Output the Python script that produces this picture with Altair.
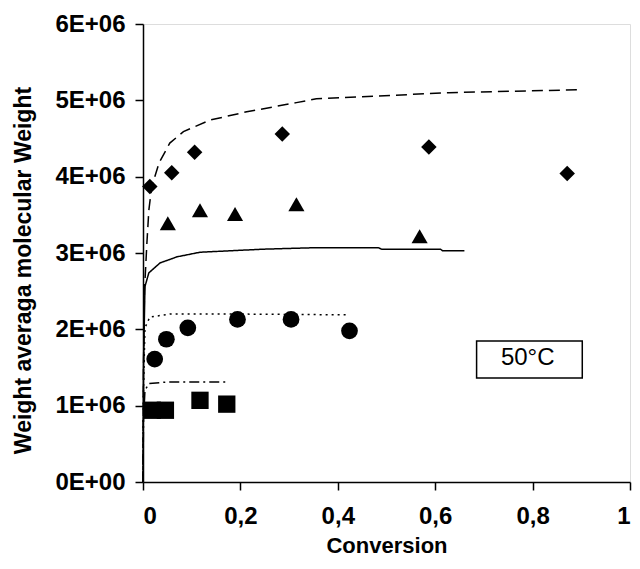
import altair as alt
import pandas as pd

# ---- model curves ----
dashed_x = [0, 0.001, 0.003, 0.008, 0.012, 0.018, 0.033, 0.055, 0.083, 0.137, 0.213, 0.315, 0.356, 0.628, 0.901]
dashed_y = [0, 1.5e6, 2.5e6, 3.13e6, 3.56e6, 3.87e6, 4.18e6, 4.44e6, 4.59e6, 4.74e6, 4.85e6, 4.97e6, 5.02e6, 5.10e6, 5.14e6]

solid_x = [0, 0.001, 0.004, 0.012, 0.035, 0.07, 0.117, 0.247, 0.356, 0.483, 0.49, 0.611, 0.615, 0.66]
solid_y = [0, 1.5e6, 2.56e6, 2.74e6, 2.87e6, 2.95e6, 3.01e6, 3.05e6, 3.07e6, 3.07e6, 3.05e6, 3.05e6, 3.03e6, 3.03e6]

dotted_x = [0, 0.001, 0.004, 0.014, 0.055, 0.2, 0.417]
dotted_y = [0, 1.2e6, 2.02e6, 2.16e6, 2.2e6, 2.2e6, 2.19e6]

dashdot_x = [0, 0.001, 0.004, 0.012, 0.05, 0.174]
dashdot_y = [0, 0.8e6, 1.2e6, 1.29e6, 1.31e6, 1.31e6]

# ---- experimental points ----
diamonds_x = [0.014, 0.059, 0.106, 0.286, 0.587, 0.871]
diamonds_y = [3.87e6, 4.05e6, 4.32e6, 4.56e6, 4.39e6, 4.04e6]
triangles_x = [0.051, 0.117, 0.189, 0.315, 0.568]
triangles_y = [3.39e6, 3.56e6, 3.51e6, 3.64e6, 3.22e6]
circles_x = [0.024, 0.048, 0.092, 0.194, 0.304, 0.424]
circles_y = [1.61e6, 1.87e6, 2.02e6, 2.13e6, 2.13e6, 1.98e6]
squares_x = [0.019, 0.046, 0.117, 0.172]
squares_y = [0.94e6, 0.94e6, 1.07e6, 1.02e6]

# ---- axis ticks ----
x_ticks = [0, 0.2, 0.4, 0.6, 0.8, 1]
x_tick_labels = ["0", "0,2", "0,4", "0,6", "0,8", "1"]
y_ticks = [0, 1e6, 2e6, 3e6, 4e6, 5e6, 6e6]
y_tick_labels = ["0E+00", "1E+06", "2E+06", "3E+06", "4E+06", "5E+06", "6E+06"]

# ---- annotation box ----
note_text = ["50°C"]
note_x = [0.685]
note_x2 = [0.902]
note_y = [1.363e6]
note_y2 = [1.848e6]
note_tx = [0.790]
note_ty = [1.62e6]

FONT = "Liberation Sans"

def label_expr(vals, labels):
    expr = "''"
    for v, l in reversed(list(zip(vals, labels))):
        expr = f"abs(datum.value - {v}) < 1e-9 * max(1, {abs(v)}) ? '{l}' : ({expr})"
    return expr

lines = pd.concat([
    pd.DataFrame({"x": dashed_x, "y": dashed_y, "s": "dashed"}),
    pd.DataFrame({"x": solid_x, "y": solid_y, "s": "solid"}),
    pd.DataFrame({"x": dotted_x, "y": dotted_y, "s": "dotted"}),
    pd.DataFrame({"x": dashdot_x, "y": dashdot_y, "s": "dashdot"}),
], ignore_index=True)

points = pd.concat([
    pd.DataFrame({"x": diamonds_x, "y": diamonds_y, "g": "diamond"}),
    pd.DataFrame({"x": triangles_x, "y": triangles_y, "g": "triangle-up"}),
    pd.DataFrame({"x": circles_x, "y": circles_y, "g": "circle"}),
    pd.DataFrame({"x": squares_x, "y": squares_y, "g": "square"}),
], ignore_index=True)

xscale = alt.Scale(domain=[0, 1], nice=False, zero=False)
yscale = alt.Scale(domain=[0, 6e6], nice=False)

xaxis = alt.Axis(
    values=x_ticks, labelExpr=label_expr(x_ticks, x_tick_labels), title="Conversion",
    grid=False, tickSize=8, tickColor="black", domainColor="black", tickWidth=1.5, domainWidth=1.5,
    labelFont=FONT, labelFontSize=24, labelFontWeight="bold", labelColor="black", labelPadding=14,
    titleFont=FONT, titleFontSize=22, titleFontWeight="bold", titleColor="black",
    titleY=70, titleBaseline="alphabetic",
)
yaxis = alt.Axis(
    values=y_ticks, labelExpr=label_expr(y_ticks, y_tick_labels), title="Weight averaga molecular Weight",
    grid=False, tickSize=8, tickColor="black", domainColor="black", tickWidth=1.5, domainWidth=1.5,
    labelFont=FONT, labelFontSize=24, labelFontWeight="bold", labelColor="black", labelPadding=10,
    titleFont=FONT, titleFontSize=23, titleFontWeight="bold", titleColor="black",
    titleX=-120, titleY=246, titleBaseline="middle", titleAlign="center", titleAngle=270,
)

line_layer = alt.Chart(lines).mark_line(color="black", strokeWidth=1.5).encode(
    x=alt.X("x:Q", scale=xscale, axis=xaxis),
    y=alt.Y("y:Q", scale=yscale, axis=yaxis),
    detail="s:N",
    strokeDash=alt.StrokeDash(
        "s:N",
        scale=alt.Scale(domain=["dashed", "solid", "dotted", "dashdot"],
                        range=[[11, 6], [1, 0], [2, 4], [10, 4, 2, 4]]),
        legend=None,
    ),
)

point_layer = alt.Chart(points).mark_point(filled=True, color="black", opacity=1).encode(
    x=alt.X("x:Q", scale=xscale),
    y=alt.Y("y:Q", scale=yscale),
    shape=alt.Shape("g:N", scale=alt.Scale(domain=["diamond", "triangle-up", "circle", "square"],
                                            range=["diamond", "triangle-up", "circle", "square"]), legend=None),
    size=alt.Size("g:N", scale=alt.Scale(domain=["diamond", "triangle-up", "circle", "square"],
                                          range=[240, 300, 125, 220]), legend=None),
)

note = pd.DataFrame({"t": note_text, "x": note_x, "x2": note_x2, "y": note_y, "y2": note_y2,
                     "tx": note_tx, "ty": note_ty})

box_layer = alt.Chart(note).mark_rect(fill="white", stroke="black", strokeWidth=1.5).encode(
    x=alt.X("x:Q", scale=xscale), x2="x2:Q",
    y=alt.Y("y:Q", scale=yscale), y2="y2:Q",
)
text_layer = alt.Chart(note).mark_text(font=FONT, fontSize=24, color="black", align="center", baseline="middle").encode(
    x=alt.X("tx:Q", scale=xscale), y=alt.Y("ty:Q", scale=yscale), text="t:N",
)

chart = alt.layer(line_layer, point_layer, box_layer, text_layer).properties(
    width=487, height=458,
    autosize=alt.AutoSizeParams(type="none"),
    padding={"left": 135, "top": 16, "right": 2, "bottom": 75},
).configure_view(stroke="black", strokeWidth=1.5).configure(background="white")

chart.save("out.html", embed_options={"renderer": "svg", "actions": False})
